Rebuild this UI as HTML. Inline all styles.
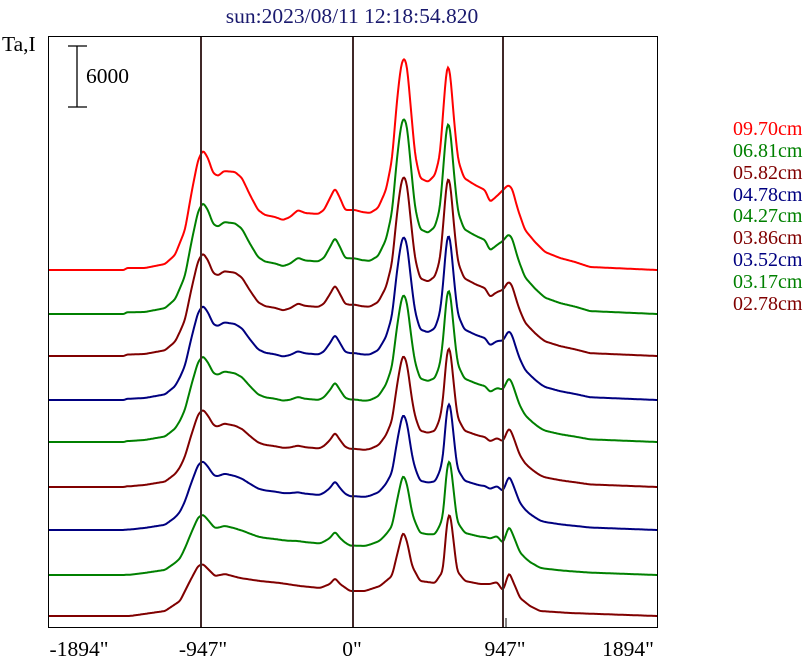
<!DOCTYPE html>
<html><head><style>
body{margin:0;background:#fff;width:807px;height:662px;overflow:hidden}
svg text{font-family:"Liberation Serif",serif}
</style></head><body>
<svg id="s" width="807" height="662" xmlns="http://www.w3.org/2000/svg">
<rect width="807" height="662" fill="#fff"/>
<text x="352" y="23" font-size="21.5" fill="#1a1a6e" text-anchor="middle">sun:2023/08/11 12:18:54.820</text>
<text x="2" y="51" font-size="21.5">Ta,I</text>
<rect x="48.5" y="36.5" width="609" height="591" fill="none" stroke="#000" stroke-width="1"/>
<g stroke="#000" stroke-width="1.3">
<line x1="77" y1="46" x2="77" y2="107"/><line x1="68" y1="46" x2="87" y2="46"/><line x1="68" y1="107" x2="87" y2="107"/>
</g>
<text x="86" y="83" font-size="21.5">6000</text>
<g id="curves"></g>
<g stroke="#402828" stroke-width="2">
<line x1="201" y1="37" x2="201" y2="627"/><line x1="353" y1="37" x2="353" y2="627"/><line x1="503" y1="37" x2="503" y2="627"/>
</g>
<line x1="506" y1="618" x2="506" y2="627" stroke="#000"/>
<g font-size="21.5" text-anchor="middle">
<text x="79" y="656">-1894"</text><text x="203" y="656">-947"</text><text x="352" y="656">0"</text><text x="505" y="656">947"</text><text x="628" y="656">1894"</text>
</g>
<g font-size="20">
<text x="733" y="135" fill="#ff0000">09.70cm</text>
<text x="733" y="157" fill="#008000">06.81cm</text>
<text x="733" y="179" fill="#800000">05.82cm</text>
<text x="733" y="201" fill="#000080">04.78cm</text>
<text x="733" y="222" fill="#008000">04.27cm</text>
<text x="733" y="244" fill="#800000">03.86cm</text>
<text x="733" y="266" fill="#000080">03.52cm</text>
<text x="733" y="288" fill="#008000">03.17cm</text>
<text x="733" y="310" fill="#800000">02.78cm</text>
</g>
</svg>
<script>
var top_=[[48,0],[125,0],[126,2],[145,2],[165,6],[175,15],[185,40],[192,80],[198,110],[203,120],[208,112],[213,97],[218,94],[224,99],[235,98],[242,92],[250,75],[258,60],[265,55],[275,53],[283,50],[290,53],[298,60],[305,57],[318,56],[324,60],[330,72],[335,82],[340,72],[345,60],[355,60],[362,58],[370,57],[378,62],[386,80],[392,110],[397,170],[401,205],[404,213],[407,205],[411,160],[415,115],[420,92],[428,88],[435,95],[440,115],[444,170],[447,206],[450,200],[454,150],[458,110],[464,92],[475,85],[485,80],[490,68],[497,74],[503,80],[508,85],[512,82],[518,60],[525,40],[535,28],[545,18],[560,12],[575,8],[590,3],[657,0]];
var bot=[[48,0],[130,0],[165,5],[180,15],[190,35],[198,50],[203,52],[208,47],[215,40],[225,42],[240,38],[260,35],[280,33],[300,30],[320,28],[330,32],[335,38],[340,32],[350,25],[365,25],[380,30],[392,40],[398,65],[403,85],[407,75],[412,50],[420,35],[435,33],[443,45],[447,95],[450,105],[453,80],[457,45],[465,35],[480,32],[490,32],[497,34],[503,25],[509,44],[515,30],[520,18],[530,10],[540,5],[570,3],[657,0]];
function ev(t,x){for(var i=1;i<t.length;i++){if(x<=t[i][0]){var a=t[i-1],b=t[i];return a[1]+(b[1]-a[1])*(x-a[0])/(b[0]-a[0]);}}return 0;}
var bases=[270,314,356,400,442,487,530,575,616];
var cols=["#ff0000","#008000","#800000","#000080","#008000","#800000","#000080","#008000","#800000"];
var g=document.getElementById("curves"),h="";
for(var k=0;k<9;k++){var f=k/8,d="",v=[];
for(var x=47;x<=659;x++)v.push((1-f)*ev(top_,x)+f*ev(bot,x));
for(var x=49;x<=657;x++){var i=x-47;var o=(v[i-2]+2*v[i-1]+3*v[i]+2*v[i+1]+v[i+2])/9;d+=(x==49?"M":"L")+x+","+(bases[k]-o).toFixed(1);}
h+='<path d="'+d+'" fill="none" stroke="'+cols[k]+'" stroke-width="2"/>';}
g.innerHTML=h;
</script>
</body></html>
